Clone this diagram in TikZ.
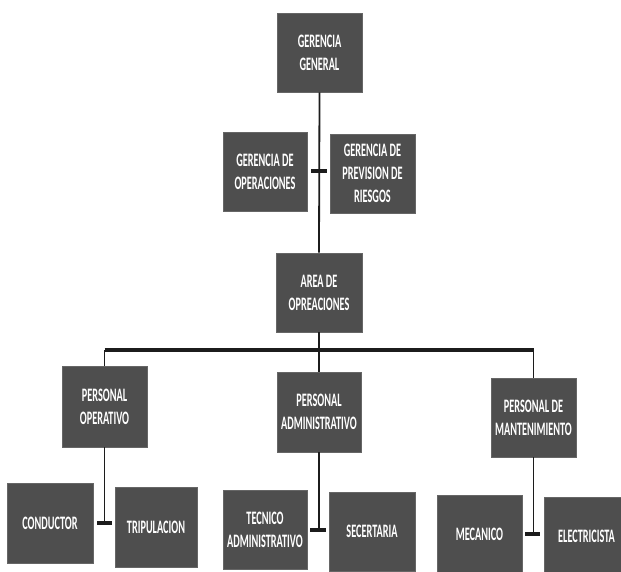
\documentclass[tikz,border=0pt]{standalone}
\usepackage{fontspec}
\newfontfamily\boxfont[FakeStretch=0.54]{Carlito}
\definecolor{boxgray}{HTML}{4E4E4E}
\definecolor{boxedge}{HTML}{666666}
\definecolor{ink}{HTML}{1C1C1C}
\tikzset{
  x=1pt, y=1pt,
  unit/.style={fill=boxgray, draw=boxedge, line width=0.8pt, text=white,
    align=center, inner sep=0pt, minimum width=85pt, minimum height=79pt,
    font=\boxfont\bfseries\fontsize{19}{23}\selectfont},
  link/.style={draw=ink, line width=1.8pt},
  bar/.style={draw=ink, line width=4pt},
}
\begin{document}
\begin{tikzpicture}
\clip (0,0) rectangle (621,-572);
\fill[white] (0,0) rectangle (621,-572);

% top management
\node[unit] (GG) at (319.5,-52.5) {GERENCIA\\GENERAL};
\node[unit, minimum width=84pt] (GO) at (265,-171.5) {GERENCIA DE\\OPERACIONES};
\node[unit] (GP) at (372.5,-173.5) {GERENCIA DE\\PREVISION DE\\RIESGOS};
\node[unit, minimum width=86pt] (AO) at (319,-292.5) {AREA DE\\OPREACIONES};

% staff groups
\node[unit, minimum height=81pt] (PO) at (104.5,-406.5) {PERSONAL\\OPERATIVO};
\node[unit, minimum width=84pt, minimum height=80pt] (PA) at (319,-412) {PERSONAL\\ADMINISTRATIVO};
\node[unit] (PM) at (533.5,-417.5) {PERSONAL DE\\MANTENIMIENTO};

% positions
\node[unit, minimum width=86pt, minimum height=80pt] (C1) at (50,-523) {CONDUCTOR};
\node[unit, minimum width=82pt, minimum height=80pt] (C2) at (156,-527) {TRIPULACION};
\node[unit, minimum width=84pt] (C3) at (265,-529.5) {TECNICO\\ADMINISTRATIVO};
\node[unit, minimum width=86pt] (C4) at (372,-531.5) {SECERTARIA};
\node[unit, minimum height=77pt] (C5) at (479.5,-534) {MECANICO};
\node[unit, minimum height=77pt] (C6) at (586.5,-536) {ELECTRICISTA};

% main trunk
\draw[link] (GG.south) -- (AO.north);
\draw[bar, shorten <=4pt, shorten >=3pt] (GO.east) -- (GP.west |- GO.east);

% distribution bus
\coordinate (bus) at (319,-350);
\draw[link] (AO.south) -- (PA.north);
\draw[bar] (PO.north |- bus) -- (PM.north |- bus);
\draw[link] (PO.north |- bus) -- (PO.north);
\draw[link] (PM.north |- bus) -- (PM.north);

% branches to positions
\draw[link] (PO.south) -- (PO.south |- C1.east);
\draw[bar, shorten <=4pt, shorten >=3pt] (C1.east) -- (C2.west |- C1.east);
\draw[link] (PA.south) -- (PA.south |- C3.east);
\draw[bar, shorten <=3pt, shorten >=3pt] (C3.east) -- (C4.west |- C3.east);
\draw[link] (PM.south) -- (PM.south |- C5.east);
\draw[bar, shorten <=3pt, shorten >=4pt] (C5.east) -- (C6.west |- C5.east);
\end{tikzpicture}
\end{document}
